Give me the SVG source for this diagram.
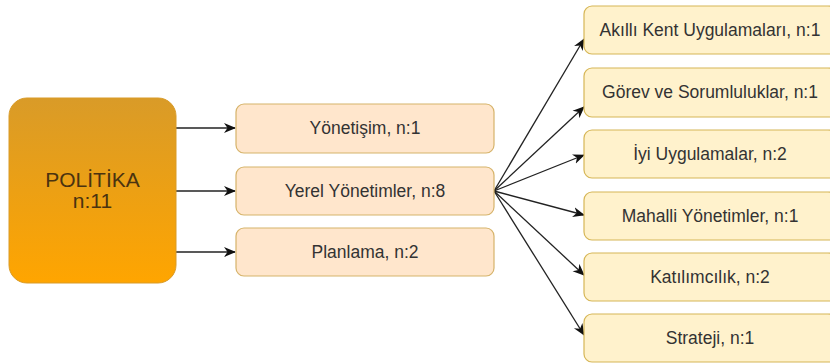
<svg xmlns="http://www.w3.org/2000/svg" width="830" height="363" viewBox="0 0 830 363">
<defs>
<linearGradient id="gOrange" x1="0" y1="0" x2="0" y2="1">
<stop offset="0" stop-color="#D99B28"/>
<stop offset="1" stop-color="#FFA500"/>
</linearGradient>
<marker id="arr" viewBox="0 0 12 12" refX="11" refY="6" markerWidth="12" markerHeight="12" markerUnits="userSpaceOnUse" orient="auto">
<path d="M0,1 L12,6 L0,11 L3.5,6 Z" fill="#111"/>
</marker>
<style>
.mid{fill:#FFE6CC;stroke:#D6B36A;stroke-width:1.2}
.right{fill:#FFF2CC;stroke:#D6B656;stroke-width:1.2}
.t{font-family:"Liberation Sans",Arial,sans-serif;font-size:17.5px;fill:#333;text-anchor:middle}
.big{font-family:"Liberation Sans",Arial,sans-serif;font-size:21px;fill:#4A3310;text-anchor:middle}
.c{fill:none;stroke:#222;stroke-width:1.3;marker-end:url(#arr)}
</style>
</defs>
<rect width="830" height="363" fill="#fff"/>
<g id="connectors">
<line class="c" x1="176" y1="128" x2="235" y2="128"/>
<line class="c" x1="176" y1="191" x2="235" y2="191"/>
<line class="c" x1="176" y1="252" x2="235" y2="252"/>
<line class="c" x1="494" y1="191" x2="584" y2="39"/>
<line class="c" x1="494" y1="191" x2="584" y2="107"/>
<line class="c" x1="494" y1="191" x2="584" y2="155"/>
<line class="c" x1="494" y1="191" x2="584" y2="215"/>
<line class="c" x1="494" y1="191" x2="584" y2="275"/>
<line class="c" x1="494" y1="191" x2="584" y2="335"/>
</g>
<g id="politika">
<rect x="9" y="98" width="167" height="185" rx="18" fill="url(#gOrange)" stroke="#D99B28"/>
<text class="big" x="92.5" y="187">POLİTİKA</text>
<text class="big" x="92.5" y="208">n:11</text>
</g>
<g id="yonetisim">
<rect class="mid" x="236" y="104" width="258" height="49" rx="8"/>
<text class="t" x="365" y="134">Yönetişim, n:1</text>
</g>
<g id="yerel">
<rect class="mid" x="236" y="167" width="258" height="48" rx="8"/>
<text class="t" x="365" y="197">Yerel Yönetimler, n:8</text>
</g>
<g id="planlama">
<rect class="mid" x="236" y="228" width="258" height="48" rx="8"/>
<text class="t" x="365" y="258">Planlama, n:2</text>
</g>
<g id="akilli">
<rect class="right" x="584" y="6" width="252" height="48" rx="8"/>
<text class="t" x="710" y="36">Akıllı Kent Uygulamaları, n:1</text>
</g>
<g id="gorev">
<rect class="right" x="584" y="68" width="252" height="49" rx="8"/>
<text class="t" x="710" y="98">Görev ve Sorumluluklar, n:1</text>
</g>
<g id="iyi">
<rect class="right" x="584" y="130" width="252" height="48" rx="8"/>
<text class="t" x="710" y="160">İyi Uygulamalar, n:2</text>
</g>
<g id="mahalli">
<rect class="right" x="584" y="192" width="252" height="48" rx="8"/>
<text class="t" x="710" y="222">Mahalli Yönetimler, n:1</text>
</g>
<g id="katilimcilik">
<rect class="right" x="584" y="253" width="252" height="48" rx="8"/>
<text class="t" x="710" y="283">Katılımcılık, n:2</text>
</g>
<g id="strateji">
<rect class="right" x="584" y="314" width="252" height="48" rx="8"/>
<text class="t" x="710" y="344">Strateji, n:1</text>
</g>
</svg>
